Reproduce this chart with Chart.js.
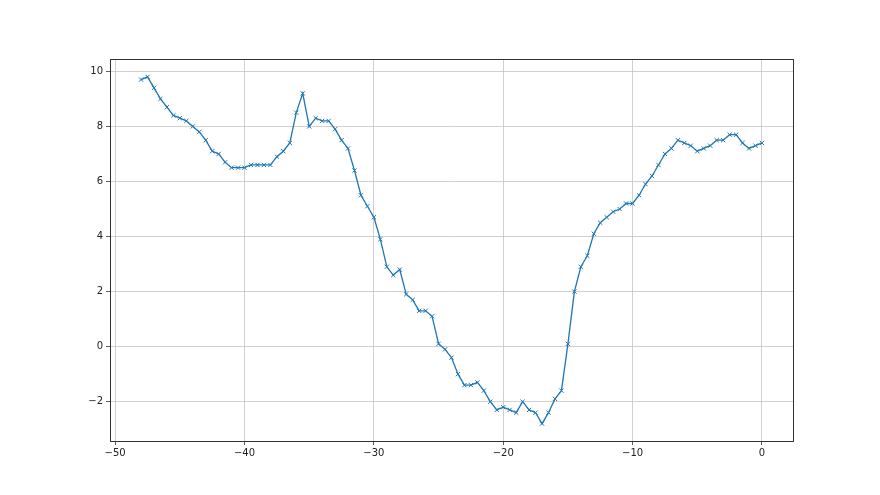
<!DOCTYPE html>
<html>
<head>
<meta charset="utf-8">
<script src="https://cdn.jsdelivr.net/npm/chart.js@4/dist/chart.umd.min.js"></script>
<style>
  html, body { margin: 0; padding: 0; background: #fff; }
  #wrap { width: 880px; height: 495px; }
</style>
</head>
<body>
<div id="wrap"><canvas id="chart" width="880" height="495"></canvas></div>
<script>
// x positions (step 0.5 from -48 to 0) and values
const xValues = [
    -48, -47.5, -47, -46.5, -46, -45.5, -45, -44.5, -44, -43.5,
    -43, -42.5, -42, -41.5, -41, -40.5, -40, -39.5, -39, -38.5,
    -38, -37.5, -37, -36.5, -36, -35.5, -35, -34.5, -34, -33.5,
    -33, -32.5, -32, -31.5, -31, -30.5, -30, -29.5, -29, -28.5,
    -28, -27.5, -27, -26.5, -26, -25.5, -25, -24.5, -24, -23.5,
    -23, -22.5, -22, -21.5, -21, -20.5, -20, -19.5, -19, -18.5,
    -18, -17.5, -17, -16.5, -16, -15.5, -15, -14.5, -14, -13.5,
    -13, -12.5, -12, -11.5, -11, -10.5, -10, -9.5, -9, -8.5,
    -8, -7.5, -7, -6.5, -6, -5.5, -5, -4.5, -4, -3.5,
    -3, -2.5, -2, -1.5, -1, -0.5, 0
];
const yValues = [
    9.7, 9.8, 9.4, 9.0, 8.7, 8.4, 8.3, 8.2, 8.0, 7.8,
    7.5, 7.1, 7.0, 6.7, 6.5, 6.5, 6.5, 6.6, 6.6, 6.6,
    6.6, 6.9, 7.1, 7.4, 8.5, 9.2, 8.0, 8.3, 8.2, 8.2,
    7.9, 7.5, 7.2, 6.4, 5.5, 5.1, 4.7, 3.9, 2.9, 2.6,
    2.8, 1.9, 1.7, 1.3, 1.3, 1.1, 0.1, -0.1, -0.4, -1.0,
    -1.4, -1.4, -1.3, -1.6, -2.0, -2.3, -2.2, -2.3, -2.4, -2.0,
    -2.3, -2.4, -2.8, -2.4, -1.9, -1.6, 0.1, 2.0, 2.9, 3.3,
    4.1, 4.5, 4.7, 4.9, 5.0, 5.2, 5.2, 5.5, 5.9, 6.2,
    6.6, 7.0, 7.2, 7.5, 7.4, 7.3, 7.1, 7.2, 7.3, 7.5,
    7.5, 7.7, 7.7, 7.4, 7.2, 7.3, 7.4
];
const xTicks = [-50, -40, -30, -20, -10, 0];
const yTicks = [-2, 0, 2, 4, 6, 8, 10];

const points = xValues.map((x, i) => ({ x: x, y: yValues[i] }));

// matplotlib-like minus sign
function fmt(v) {
    return String(v).replace('-', '\u2212');
}

// draw the full box around the plot area
const frame = {
    id: 'frame',
    afterDatasetsDraw(chart) {
        const a = chart.chartArea;
        const ctx = chart.ctx;
        ctx.save();
        ctx.strokeStyle = '#333';
        ctx.lineWidth = 1;
        ctx.strokeRect(Math.round(a.left) + 0.5, Math.round(a.top) + 0.5,
            Math.round(a.right - a.left), Math.round(a.bottom - a.top));
        ctx.restore();
    }
};

const gridOpts = {
    color: '#c4c4c4',
    lineWidth: 0.8,
    tickColor: '#333',
    tickLength: 4
};

new Chart(document.getElementById('chart'), {
    type: 'scatter',
    data: {
        datasets: [{
            data: points,
            showLine: true,
            borderColor: '#1f77b4',
            backgroundColor: '#1f77b4',
            borderWidth: 1.3,
            pointStyle: 'crossRot',
            pointRadius: 3,
            pointBorderWidth: 1,
            pointHoverRadius: 3
        }]
    },
    options: {
        responsive: false,
        animation: false,
        layout: { padding: { top: 59, right: 87, left: 0, bottom: 0 } },
        plugins: {
            legend: { display: false },
            tooltip: { enabled: false }
        },
        scales: {
            x: {
                type: 'linear',
                min: -50.4,
                max: 2.4,
                grid: gridOpts,
                border: { display: false },
                afterBuildTicks: s => { s.ticks = xTicks.map(v => ({ value: v })); },
                afterFit: s => { s.height = 54; },
                ticks: {
                    color: '#222',
                    padding: 2,
                    maxRotation: 0,
                    font: { family: 'DejaVu Sans', size: 10 },
                    callback: v => fmt(v)
                }
            },
            y: {
                type: 'linear',
                min: -3.43,
                max: 10.45,
                grid: gridOpts,
                border: { display: false },
                afterBuildTicks: s => { s.ticks = yTicks.map(v => ({ value: v })); },
                afterFit: s => { s.width = 110; },
                ticks: {
                    color: '#222',
                    padding: 3,
                    font: { family: 'DejaVu Sans', size: 10 },
                    callback: v => fmt(v)
                }
            }
        }
    },
    plugins: [frame]
});
</script>
</body>
</html>
